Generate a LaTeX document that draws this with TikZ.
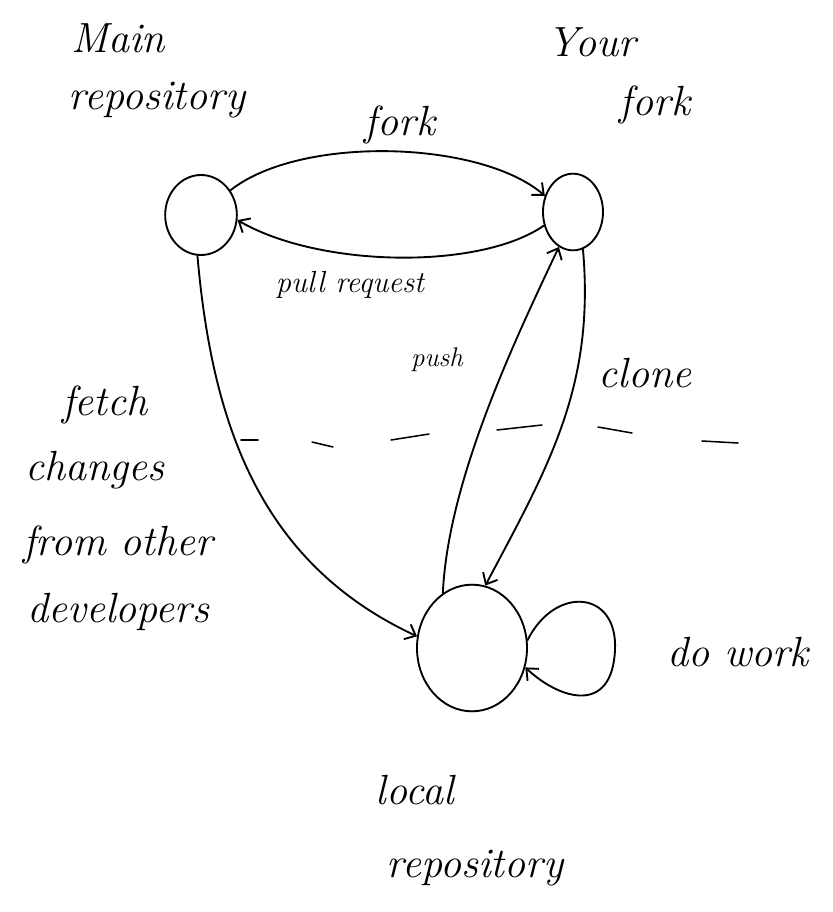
\documentclass[tikz,border=0pt]{standalone}
\usetikzlibrary{arrows.meta,shapes.geometric}
\begin{document}
\begin{tikzpicture}[x=0.03cm,y=-0.03cm, line width=1.6pt, line cap=round,
  repo/.style={draw, ellipse, inner sep=0pt},
  big/.style={font=\fontsize{36}{42}\selectfont\itshape, inner sep=0pt},
  small/.style={font=\fontsize{26}{30}\selectfont\itshape, inner sep=0pt},
  tiny/.style={font=\fontsize{23}{26}\selectfont\itshape, inner sep=0pt},
  arr/.style={-{Straight Barb[length=8pt,width=14pt]}}]
\useasboundingbox (0,0) rectangle (833,912);
% repositories
\node[repo, minimum width=2.15cm, minimum height=2.4cm] (main) at (201,215) {};
\node[repo, minimum width=1.8cm, minimum height=2.3cm] (fork) at (573,212) {};
\node[repo, minimum width=3.3cm, minimum height=3.8cm] (local) at (472,648) {};
% labels
\node[big] (tmain) at (118,38) {Main};
\node[big] (trepo1) at (157,100) {repository};
\node[big] (tyour) at (592,42) {Your};
\node[big] (tfork) at (655,105) {fork};
\node[big] (lfork) at (400,125) {fork};
\node[small] (lpull) at (350,285) {pull request};
\node[tiny] (lpush) at (437,360) {push};
\node[big] (lclone) at (645,373) {clone};
\node[big] (lfetch) at (105,405) {fetch};
\node[big] (lchanges) at (95,470) {changes};
\node[big] (lfrom) at (118,545) {from other};
\node[big] (ldev) at (118,612) {developers};
\node[big] (lwork) at (738,652) {do work};
\node[big] (tlocal) at (415,790) {local};
\node[big] (trepo2) at (475,868) {repository};
% divider (hand-drawn dashes)
\draw[line width=1.3pt] (241,440) -- (258,440);
\draw[line width=1.3pt] (312,442) -- (333,447);
\draw[line width=1.3pt] (391,440) -- (429,434);
\draw[line width=1.3pt] (497,430) -- (542,425);
\draw[line width=1.3pt] (598,427) -- (632,433);
\draw[line width=1.3pt] (702,441) -- (738,443);
% connectors
\draw[arr] (main.40) .. controls (300,135) and (480,140) .. (fork.150);
\draw[arr] (fork.205) .. controls (480,270) and (320,268) .. (main.-8);
\draw[arr] (main.-95) to[out=-85,in=155] (local.168);
\draw[arr] (local.118) .. controls (448,480) and (515,340) .. (fork.-112);
\draw[arr] (fork.-75) to[out=-85,in=62] (local.78);
\draw[arr] (local.8) .. controls (555,585) and (618,590) .. (615,650)
   .. controls (612,715) and (560,700) .. (local.-20);
\end{tikzpicture}
\end{document}
